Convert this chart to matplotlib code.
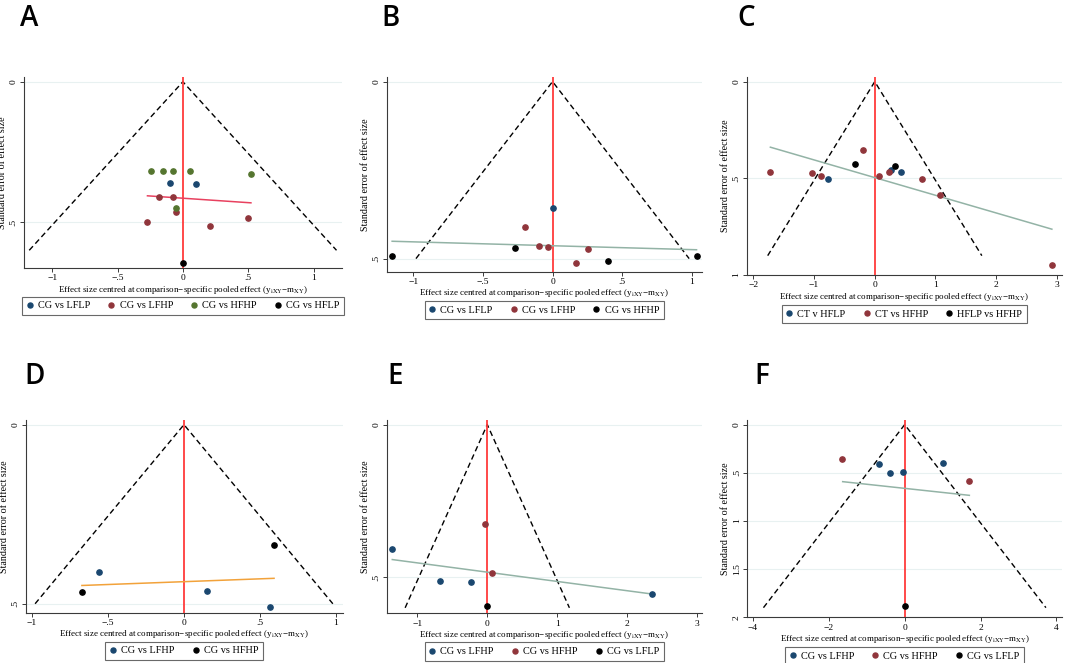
import numpy as np
import matplotlib
matplotlib.use("Agg")
import matplotlib.pyplot as plt
from matplotlib.lines import Line2D

plt.rcParams['font.family'] = ['Liberation Serif', 'DejaVu Serif']
plt.rcParams['mathtext.fontset'] = 'stix'

# stata s2color palette
NAVY = '#1a476f'
MAROON = '#90353b'
FOREST = '#55752f'
BLACK = '#000000'

# ---------------- panel data ----------------
# A
a_labels = ['CG vs LFLP', 'CG vs LFHP', 'CG vs HFHP', 'CG vs HFLP']
a_colors = [NAVY, MAROON, FOREST, BLACK]
a_x = [[-0.097, 0.102],
       [-0.186, -0.072, -0.056, -0.271, 0.207, 0.496],
       [-0.245, -0.151, -0.072, 0.051, 0.519, -0.056],
       [0.0]]
a_y = [[0.359, 0.365],
       [0.409, 0.410, 0.462, 0.500, 0.514, 0.486],
       [0.317, 0.317, 0.317, 0.319, 0.329, 0.448],
       [0.645]]
a_fit_x = [-0.271, 0.521]
a_fit_y = [0.406, 0.431]

# B
b_labels = ['CG vs LFLP', 'CG vs LFHP', 'CG vs HFHP']
b_colors = [NAVY, MAROON, BLACK]
b_x = [[0.0],
       [-0.201, -0.100, -0.036, 0.254, 0.165],
       [-1.151, -0.273, 0.397, 1.033]]
b_y = [[0.358],
       [0.412, 0.465, 0.466, 0.474, 0.512],
       [0.492, 0.471, 0.508, 0.492]]
b_fit_x = [-1.151, 1.033]
b_fit_y = [0.451, 0.475]

# C
c_labels = ['CT v HFLP', 'CT vs HFHP', 'HFLP vs HFHP']
c_colors = [NAVY, MAROON, BLACK]
c_x = [[-0.769, 0.269, 0.429],
       [-1.731, -1.038, -0.885, -0.192, 0.077, 0.242, 0.780, 1.077, 2.918],
       [-0.330, 0.341]]
c_y = [[0.506, 0.458, 0.468],
       [0.468, 0.473, 0.489, 0.352, 0.490, 0.468, 0.503, 0.587, 0.948],
       [0.427, 0.435]]
c_fit_x = [-1.72, 2.918]
c_fit_y = [0.339, 0.763]

# D
d_labels = ['CG vs LFHP', 'CG vs HFHP']
d_colors = [NAVY, BLACK]
d_x = [[-0.562, 0.154, 0.564],
       [0.593, -0.672]]
d_y = [[0.412, 0.465, 0.510],
       [0.335, 0.468]]
d_fit_x = [-0.672, 0.593]
d_fit_y = [0.449, 0.429]

# E
e_labels = ['CG vs LFHP', 'CG vs HFHP', 'CG vs LFLP']
e_colors = [NAVY, MAROON, BLACK]
e_x = [[-1.360, -0.683, -0.234, 2.363],
       [-0.033, 0.062],
       [0.0]]
e_y = [[0.408, 0.512, 0.514, 0.555],
       [0.325, 0.485],
       [0.594]]
e_fit_x = [-1.360, 2.363]
e_fit_y = [0.442, 0.555]

# F
f_labels = ['CG vs LFHP', 'CG vs HFHP', 'CG vs LFLP']
f_colors = [NAVY, MAROON, BLACK]
f_x = [[-0.668, -0.387, -0.035, 1.020],
       [-1.653, 1.705],
       [0.0]]
f_y = [[0.412, 0.502, 0.491, 0.394],
       [0.360, 0.581],
       [1.882]]
f_fit_x = [-1.635, 1.705]
f_fit_y = [0.592, 0.734]


def tick_text(v):
    """stata style tick labels: -.5, .5, 1.5"""
    if v == 0:
        return '0'
    s = ('%g' % abs(v))
    if s.startswith('0.'):
        s = s[1:]
    return ('\u2212' + s) if v < 0 else s


# panel settings: letter, data, fit colour, se max of funnel, limits, ticks, rect (px)
panels = [
    dict(letter='A', labels=a_labels, colors=a_colors, xs=a_x, ys=a_y,
         fit_x=a_fit_x, fit_y=a_fit_y, fit_color='#e8415f', se_max=0.6,
         xlim=(-1.216, 1.218), ylim=(0.663, -0.017),
         xticks=[-1, -0.5, 0, 0.5, 1], yticks=[0, 0.5],
         rect=(24, 77, 342, 268), letter_xy=(20, 26)),
    dict(letter='B', labels=b_labels, colors=b_colors, xs=b_x, ys=b_y,
         fit_x=b_fit_x, fit_y=b_fit_y, fit_color='#93b3a6', se_max=0.5,
         xlim=(-1.19, 1.07), ylim=(0.537, -0.013),
         xticks=[-1, -0.5, 0, 0.5, 1], yticks=[0, 0.5],
         rect=(386.7, 77, 701.7, 271.7), letter_xy=(381, 26)),
    dict(letter='C', labels=c_labels, colors=c_colors, xs=c_x, ys=c_y,
         fit_x=c_fit_x, fit_y=c_fit_y, fit_color='#93b3a6', se_max=0.9,
         xlim=(-2.11, 3.08), ylim=(1.0, -0.024),
         xticks=[-2, -1, 0, 1, 2, 3], yticks=[0, 0.5, 1],
         rect=(746.7, 77, 1061.7, 275), letter_xy=(737, 26)),
    dict(letter='D', labels=d_labels, colors=d_colors, xs=d_x, ys=d_y,
         fit_x=d_fit_x, fit_y=d_fit_y, fit_color='#f2a23a', se_max=0.5,
         xlim=(-1.04, 1.045), ylim=(0.525, -0.013),
         xticks=[-1, -0.5, 0, 0.5, 1], yticks=[0, 0.5],
         rect=(26, 420, 342.7, 612.7), letter_xy=(24, 384)),
    dict(letter='E', labels=e_labels, colors=e_colors, xs=e_x, ys=e_y,
         fit_x=e_fit_x, fit_y=e_fit_y, fit_color='#93b3a6', se_max=0.6,
         xlim=(-1.44, 3.07), ylim=(0.618, -0.015),
         xticks=[-1, 0, 1, 2, 3], yticks=[0, 0.5],
         rect=(386.7, 420, 701.7, 613.3), letter_xy=(387, 384)),
    dict(letter='F', labels=f_labels, colors=f_colors, xs=f_x, ys=f_y,
         fit_x=f_fit_x, fit_y=f_fit_y, fit_color='#93b3a6', se_max=1.9,
         xlim=(-4.15, 4.14), ylim=(2.0, -0.048),
         xticks=[-4, -2, 0, 2, 4], yticks=[0, 0.5, 1, 1.5, 2],
         rect=(747.3, 420, 1061.7, 617.3), letter_xy=(754, 384)),
]

W, H = 1065, 663
fig = plt.figure(figsize=(W / 100, H / 100), dpi=100)

XLABEL = ('Effect size centred at comparison\u2212specific pooled effect '
          '(y$_{\\mathrm{iXY}}$\u2212m$_{\\mathrm{XY}}$)')

for p in panels:
    x0, y0, x1, y1 = p['rect']
    ax = fig.add_axes([x0 / W, 1 - y1 / H, (x1 - x0) / W, (y1 - y0) / H])

    # faint stata grid at y ticks
    for yt in p['yticks']:
        ax.axhline(yt, color='#e8f1f1', lw=0.8, zorder=0)

    # pseudo 95% CI funnel
    se = p['se_max']
    ax.plot([-1.96 * se, 0, 1.96 * se], [se, 0, se], color='k', lw=1.0,
            ls=(0, (4, 2.5)), zorder=2)
    ax.axvline(0, color='#ff3b3b', lw=1.3, zorder=3)

    for xs, ys, col in zip(p['xs'], p['ys'], p['colors']):
        ax.plot(xs, ys, 'o', color=col, ms=3.8, mec=col, zorder=4)

    ax.plot(p['fit_x'], p['fit_y'], color=p['fit_color'], lw=1.1, zorder=3)

    ax.set_xlim(p['xlim'])
    ax.set_ylim(p['ylim'])
    ax.set_xticks(p['xticks'])
    ax.set_xticklabels([tick_text(v) for v in p['xticks']])
    ax.set_yticks(p['yticks'])
    ax.set_yticklabels([tick_text(v) for v in p['yticks']], rotation=90, va='center')

    for side in ['top', 'right']:
        ax.spines[side].set_visible(False)
    for side in ['left', 'bottom']:
        ax.spines[side].set_color('#3a3a3a')
        ax.spines[side].set_linewidth(0.8)
    ax.tick_params(labelsize=6.8, length=3, width=0.7, color='#3a3a3a', pad=1.5)

    ax.set_xlabel(XLABEL, fontsize=6.5, labelpad=1)
    ax.set_ylabel('Standard error of effect size', fontsize=7.2, labelpad=2)

    handles = [Line2D([], [], ls='', marker='o', ms=3.6, color=c) for c in p['colors']]
    leg = ax.legend(handles, p['labels'], loc='upper center',
                    bbox_to_anchor=(0.5, -0.15), ncol=len(handles),
                    fontsize=7.4, frameon=True, fancybox=False,
                    handlelength=0.6, handletextpad=0.5, columnspacing=1.75,
                    borderpad=0.45, borderaxespad=0)
    leg.get_frame().set_edgecolor('#444444')
    leg.get_frame().set_linewidth(0.8)

    lx, ly = p['letter_xy']
    fig.text(lx / W, 1 - ly / H, p['letter'], fontsize=20, family='Open Sans',
             fontweight='semibold', ha='left', va='baseline')

fig.savefig('out.png', dpi=100, facecolor='white')
